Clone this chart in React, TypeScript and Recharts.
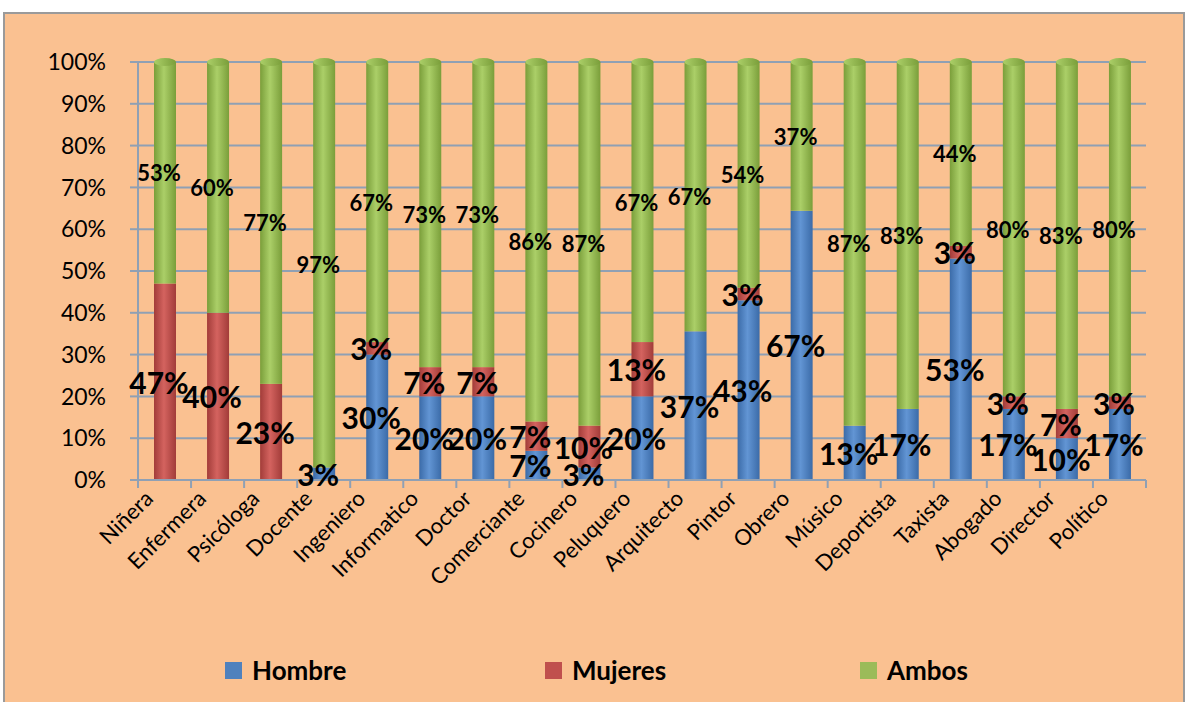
import React from 'react';
import { BarChart, Bar, XAxis, YAxis, CartesianGrid, LabelList } from 'recharts';

const categories = [
  'Niñera', 'Enfermera', 'Psicóloga', 'Docente', 'Ingeniero', 'Informatico', 'Doctor',
  'Comerciante', 'Cocinero', 'Peluquero', 'Arquitecto', 'Pintor', 'Obrero', 'Músico',
  'Deportista', 'Taxista', 'Abogado', 'Director', 'Político',
];
const hombre = [0, 0, 0, 3, 30, 20, 20, 7, 3, 20, 37, 43, 67, 13, 17, 53, 17, 10, 17];
const mujeres = [47, 40, 23, 0, 3, 7, 7, 7, 10, 13, 0, 3, 0, 0, 0, 3, 3, 7, 3];
const ambos = [53, 60, 77, 97, 67, 73, 73, 86, 87, 67, 67, 54, 37, 87, 83, 44, 80, 83, 80];
const yTicks = [0, 0.1, 0.2, 0.3, 0.4, 0.5, 0.6, 0.7, 0.8, 0.9, 1];

const data = categories.map((name, i) => ({
  name,
  hombre: hombre[i],
  mujeres: mujeres[i],
  ambos: ambos[i],
}));

const FONT = 'Lato, "Open Sans", sans-serif';
const GRID = '#8FA0B4';
const BAND = 1008 / categories.length;

const legendItems = [
  { name: 'Hombre', color: '#4F81BD', left: 225 },
  { name: 'Mujeres', color: '#C0504D', left: 545 },
  { name: 'Ambos', color: '#9BBB59', left: 860 },
];

function XTick(props: any) {
  const { x, y, payload, index } = props;
  return (
    <g>
      <line x1={x - BAND / 2} y1={y} x2={x - BAND / 2} y2={y + 8} stroke={GRID} strokeWidth={2} />
      {index === categories.length - 1 && (
        <line x1={x + BAND / 2} y1={y} x2={x + BAND / 2} y2={y + 8} stroke={GRID} strokeWidth={2} />
      )}
      <text
        transform={`translate(${x - 10}, ${y + 20}) rotate(-45)`}
        textAnchor="end"
        fontSize={22}
        fontFamily={FONT}
        fill="#000"
      >
        {payload.value}
      </text>
    </g>
  );
}

function makeLabel(size: number) {
  return (props: any) => {
    const { x, y, width, height, value } = props;
    if (!value) return null;
    return (
      <text
        x={x + width / 2 - 6}
        y={y + height / 2}
        textAnchor="middle"
        dominantBaseline="central"
        fontSize={size}
        fontWeight={700}
        fontFamily={FONT}
        fill="#000"
      >
        {value}%
      </text>
    );
  };
}

function Cylinder(props: any) {
  const { x, y, width, height, gid, cap } = props;
  if (!height || height <= 0) return null;
  return (
    <g>
      <rect x={x} y={y} width={width} height={height} fill={`url(#${gid})`} />
      {cap && <ellipse cx={x + width / 2} cy={y} rx={width / 2} ry={4} fill={`url(#${gid}c)`} />}
    </g>
  );
}

const grads = [
  { id: 'gb', edge: '#3B6BA8', mid: '#6295D4' },
  { id: 'gr', edge: '#A23C39', mid: '#D4635F' },
  { id: 'gg', edge: '#7A9E3A', mid: '#ABCF68' },
];

export default function App() {
  return (
    <div style={{ position: 'absolute', left: 0, top: 0, width: 1188, height: 702, overflow: 'hidden', background: '#fff' }}>
      <div
        style={{
          position: 'absolute', left: 3, top: 12, width: 1178, height: 700,
          border: '2px solid #9A9A9A', background: '#FAC191',
        }}
      />
      <div style={{ position: 'absolute', left: 0, top: 0 }}>
        <BarChart
          width={1188}
          height={702}
          data={data}
          stackOffset="expand"
          barSize={22}
          margin={{ top: 62, right: 42, bottom: 72, left: 0 }}
        >
          <defs>
            {grads.map((g) => (
              <React.Fragment key={g.id}>
                <linearGradient id={g.id} x1="0" y1="0" x2="1" y2="0">
                  <stop offset="0%" stopColor={g.edge} />
                  <stop offset="45%" stopColor={g.mid} />
                  <stop offset="100%" stopColor={g.edge} />
                </linearGradient>
                <linearGradient id={`${g.id}c`} x1="0" y1="0" x2="1" y2="0">
                  <stop offset="0%" stopColor={g.mid} />
                  <stop offset="100%" stopColor={g.edge} />
                </linearGradient>
              </React.Fragment>
            ))}
          </defs>
          <CartesianGrid vertical={false} stroke={GRID} strokeWidth={2} />
          <XAxis
            dataKey="name"
            interval={0}
            height={150}
            tickLine={false}
            tickSize={0}
            tickMargin={0}
            axisLine={{ stroke: GRID, strokeWidth: 2 }}
            tick={<XTick />}
          />
          <YAxis
            width={138}
            domain={[0, 1]}
            ticks={yTicks}
            tickFormatter={(v: number) => `${Math.round(v * 100)}%`}
            tick={{ fill: '#000', fontSize: 23, fontFamily: FONT }}
            tickSize={8}
            tickMargin={24}
            tickLine={{ stroke: GRID, strokeWidth: 2 }}
            axisLine={{ stroke: GRID, strokeWidth: 2 }}
          />
          <Bar dataKey="hombre" stackId="a" isAnimationActive={false} shape={(p: any) => <Cylinder {...p} gid="gb" />}>
            <LabelList dataKey="hombre" content={makeLabel(30)} />
          </Bar>
          <Bar dataKey="mujeres" stackId="a" isAnimationActive={false} shape={(p: any) => <Cylinder {...p} gid="gr" />}>
            <LabelList dataKey="mujeres" content={makeLabel(30)} />
          </Bar>
          <Bar dataKey="ambos" stackId="a" isAnimationActive={false} shape={(p: any) => <Cylinder {...p} gid="gg" cap />}>
            <LabelList dataKey="ambos" content={makeLabel(22)} />
          </Bar>
        </BarChart>
      </div>
      {legendItems.map((l) => (
        <div
          key={l.name}
          style={{
            position: 'absolute', left: l.left, top: 654, display: 'flex', alignItems: 'center',
            fontFamily: FONT, fontWeight: 700, fontSize: 26, color: '#000',
          }}
        >
          <span style={{ display: 'inline-block', width: 17, height: 17, background: l.color, marginRight: 10 }} />
          {l.name}
        </div>
      ))}
    </div>
  );
}
